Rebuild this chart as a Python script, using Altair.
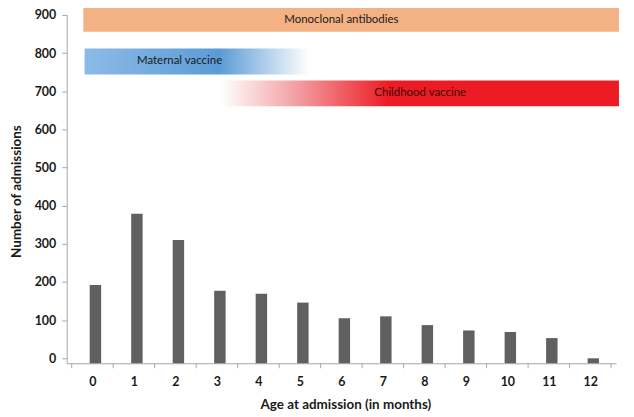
import altair as alt
import pandas as pd

# Data
ages = list(range(13))
admissions = [192, 379, 310, 177, 169, 146, 105, 110, 87, 73, 69, 53, 0]
tick_edges = [a - 0.5 for a in ages] + [12.5]
y_ticks = list(range(0, 901, 100))

band_names = ["Monoclonal antibodies", "Maternal vaccine", "Childhood vaccine"]
band_start = [-0.22, -0.19, 3.1]
band_end = [12.69, 5.22, 12.69]
band_top = [920, 812, 728]
band_bottom = [856, 744, 661]

W, H = 552, 350
FONT = "Lato"
AX = "#a6a6a6"
XT = "Age at admission (in months)"
YT = "Number of admissions"

xs = alt.Scale(domain=[-0.5, 12.5], nice=False, zero=False)
ys = alt.Scale(domain=[-13, 900], nice=False, zero=False)

x_axis = alt.Axis(
    values=ages, ticks=False, labelOverlap=False, labelFlush=False,
    labelPadding=12, domainColor=AX, grid=False,
    labelFont=FONT, labelFontSize=12.5, labelFontWeight="bold", labelColor="#1a1a1a",
    titleFont=FONT, titleFontSize=13.5, titleFontWeight="bold", titleColor="#1a1a1a",
    titleX=280, titleY=41, titleBaseline="middle", titleAnchor="middle",
)
y_axis = alt.Axis(
    values=y_ticks, tickSize=5, labelOverlap=False, labelFlush=False,
    tickColor=AX, domainColor=AX, grid=False, labelPadding=6,
    labelFont=FONT, labelFontSize=12.5, labelFontWeight="bold", labelColor="#1a1a1a",
    titleFont=FONT, titleFontSize=13.5, titleFontWeight="bold", titleColor="#1a1a1a",
    titleX=-46.5, titleY=177, titleBaseline="alphabetic", titleAlign="center", titleAngle=270,
)

bars_df = pd.DataFrame({"age": ages, "n": admissions})
ticks_df = pd.DataFrame({"edge": tick_edges})

bars = alt.Chart(bars_df).mark_bar(width=11.5, xOffset=3, color="#606060").encode(
    x=alt.X("age:Q", scale=xs, title=XT, axis=x_axis),
    y=alt.Y("n:Q", scale=ys, title=YT, axis=y_axis),
    y2=alt.datum(-13),
)

xticks = alt.Chart(ticks_df).mark_rule(color=AX, strokeWidth=1).encode(
    x=alt.X("edge:Q", scale=xs, title=XT, axis=x_axis),
    y=alt.value(H),
    y2=alt.value(H + 5),
)

grads = [
    alt.Gradient(gradient="linear", x1=0, x2=1, y1=0, y2=0, stops=[
        alt.GradientStop(color="#f4b183", offset=0),
        alt.GradientStop(color="#f4b183", offset=1)]),
    alt.Gradient(gradient="linear", x1=0, x2=1, y1=0, y2=0, stops=[
        alt.GradientStop(color="#8dbbe8", offset=0),
        alt.GradientStop(color="#5b9bd5", offset=0.6),
        alt.GradientStop(color="#ffffff", offset=1)]),
    alt.Gradient(gradient="linear", x1=0, x2=1, y1=0, y2=0, stops=[
        alt.GradientStop(color="#ffffff", offset=0),
        alt.GradientStop(color="#f29a9e", offset=0.2),
        alt.GradientStop(color="#ed1c24", offset=0.42),
        alt.GradientStop(color="#ed1c24", offset=1)]),
]
text_x = [6.0, 2.1, 7.9]
text_colors = ["#1a1a1a", "#1a1a1a", "#3a0505"]

layers = [bars, xticks]
for i in range(3):
    df = pd.DataFrame({"s": [band_start[i]], "e": [band_end[i]], "t": [band_top[i]],
                       "b": [band_bottom[i]], "name": [band_names[i]], "tx": [text_x[i]],
                       "ty": [(band_top[i] + band_bottom[i]) / 2]})
    rect = alt.Chart(df).mark_rect(color=grads[i]).encode(
        x=alt.X("s:Q", scale=xs, title=XT, axis=x_axis), x2="e:Q",
        y=alt.Y("t:Q", scale=ys, title=YT, axis=y_axis), y2="b:Q",
    )
    txt = alt.Chart(df).mark_text(font=FONT, fontSize=11.5, color=text_colors[i],
                                  align="center", baseline="middle").encode(
        x=alt.X("tx:Q", scale=xs, title=XT, axis=x_axis),
        y=alt.Y("ty:Q", scale=ys, title=YT, axis=y_axis),
        text="name:N",
    )
    layers += [rect, txt]

chart = alt.layer(*layers).properties(
    width=W, height=H,
    autosize=alt.AutoSizeParams(type="none"),
    padding={"left": 59, "top": 6, "right": 10, "bottom": 50},
).configure_view(stroke=None)

chart.save("out.html", embed_options={"renderer": "svg", "actions": False})
